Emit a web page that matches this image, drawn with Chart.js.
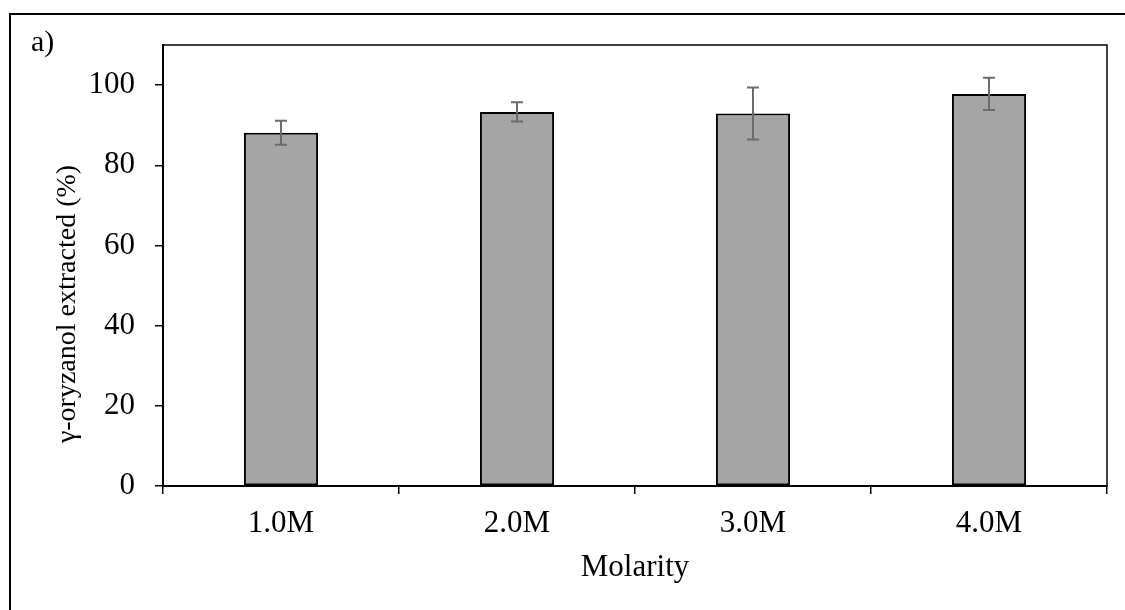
<!DOCTYPE html>
<html>
<head>
<meta charset="utf-8">
<script src="https://cdn.jsdelivr.net/npm/chart.js@4.4.1/dist/chart.umd.min.js"></script>
<style>
	html, body { margin: 0; padding: 0; background: #fff; }
	#wrap { position: relative; width: 1125px; height: 610px; }
</style>
</head>
<body>
<div id="wrap"><canvas id="chart"></canvas></div>
<script>
const molarities = ['1.0M', '2.0M', '3.0M', '4.0M'];
const extracted = [88.1, 93.3, 92.9, 97.8];
const extractedErr = [3.0, 2.4, 6.5, 4.0];
const yTicks = [0, 20, 40, 60, 80, 100];

const FONT = 'Liberation Serif';

// outer frame, panel letter, y title, plot box and error bars
const decorations = {
	id: 'decorations',
	beforeDraw(chart) {
		const ctx = chart.ctx;
		ctx.save();
		ctx.strokeStyle = '#000';
		ctx.lineWidth = 2;
		ctx.beginPath();
		ctx.moveTo(10, chart.height);
		ctx.lineTo(10, 14);
		ctx.lineTo(chart.width, 14);
		ctx.stroke();
		ctx.restore();
	},
	afterDraw(chart) {
		const ctx = chart.ctx;
		const area = chart.chartArea;
		const yScale = chart.scales.y;
		const meta = chart.getDatasetMeta(0);

		ctx.save();
		// box round the plot area
		ctx.strokeStyle = '#000';
		ctx.lineWidth = 1.5;
		ctx.strokeRect(area.left, area.top, area.right - area.left, area.bottom - area.top);

		// error bars
		ctx.strokeStyle = '#6b6b6b';
		ctx.lineWidth = 2;
		meta.data.forEach((bar, i) => {
			const hi = yScale.getPixelForValue(extracted[i] + extractedErr[i]);
			const lo = yScale.getPixelForValue(extracted[i] - extractedErr[i]);
			const cap = 6;
			ctx.beginPath();
			ctx.moveTo(bar.x, hi);
			ctx.lineTo(bar.x, lo);
			ctx.moveTo(bar.x - cap, hi);
			ctx.lineTo(bar.x + cap, hi);
			ctx.moveTo(bar.x - cap, lo);
			ctx.lineTo(bar.x + cap, lo);
			ctx.stroke();
		});

		ctx.fillStyle = '#000';
		ctx.font = '30px "' + FONT + '"';
		ctx.textAlign = 'left';
		ctx.textBaseline = 'alphabetic';
		ctx.fillText('a)', 31, 51);

		ctx.translate(68, 304);
		ctx.rotate(-Math.PI / 2);
		ctx.textAlign = 'center';
		ctx.textBaseline = 'middle';
		ctx.font = '28px "' + FONT + '"';
		ctx.fillText('γ-oryzanol extracted (%)', 0, 0);
		ctx.restore();
	}
};

const config = {
	type: 'bar',
	data: {
		labels: molarities,
		datasets: [
			{
				label: 'γ-oryzanol extracted (%)',
				data: extracted,
				backgroundColor: '#a5a5a5',
				borderColor: '#000',
				borderWidth: 2,
				borderSkipped: false,
				categoryPercentage: 1,
				barPercentage: 0.314,
			},
		],
	},
	options: {
		responsive: true,
		maintainAspectRatio: false,
		animation: false,
		layout: { padding: { top: 45, right: 18, left: 0, bottom: 0 } },
		plugins: {
			legend: { display: false },
			tooltip: { enabled: false },
		},
		scales: {
			x: {
				grid: {
					display: true,
					offset: true,
					drawOnChartArea: false,
					drawTicks: true,
					tickLength: 8,
					color: '#000',
					lineWidth: 1.5,
				},
				border: { color: '#000', width: 2 },
				ticks: {
					color: '#000',
					font: { family: FONT, size: 31 },
					padding: 11,
				},
				title: {
					display: true,
					text: 'Molarity',
					color: '#000',
					font: { family: FONT, size: 31 },
					padding: { top: 0, bottom: 24 },
				},
				afterFit(scale) {
					scale.height = 124;
				},
			},
			y: {
				min: 0,
				max: 110,
				grid: {
					display: true,
					drawOnChartArea: false,
					drawTicks: true,
					tickLength: 8,
					color: '#000',
					lineWidth: 1.5,
				},
				border: { color: '#000', width: 2 },
				ticks: {
					color: '#000',
					font: { family: FONT, size: 31 },
					padding: 20,
				},
				afterBuildTicks(scale) {
					scale.ticks = yTicks.map(v => ({ value: v }));
				},
				afterFit(scale) {
					scale.width = 163;
				},
			},
		},
	},
	plugins: [decorations],
};

new Chart(document.getElementById('chart'), config);
</script>
</body>
</html>
